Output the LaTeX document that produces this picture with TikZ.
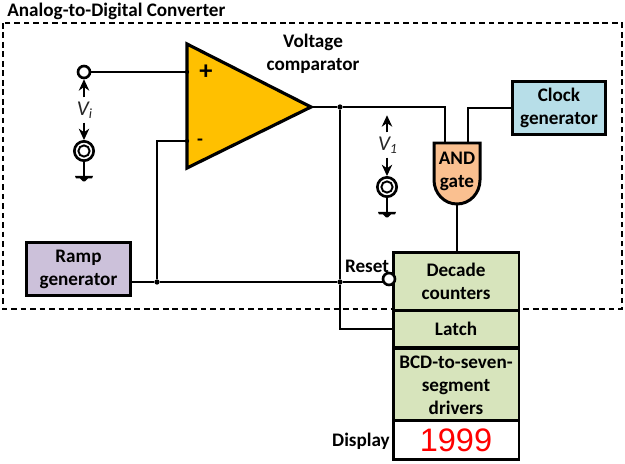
\documentclass[tikz,border=0pt]{standalone}
\usepackage{fontspec}
\setmainfont{Carlito}
\newfontfamily\digitfont{Liberation Sans}
\usetikzlibrary{arrows.meta}
\tikzset{
    wire/.style = {line width = 1.4pt},
    blockbox/.style = {draw, line width = 1.7pt, align = center, inner sep = 0pt, font = \bfseries\fontsize{10.9}{13}\selectfont},
    plainlabel/.style = {inner sep = 0pt, align = center, font = \bfseries\fontsize{10.9}{13}\selectfont},
    voltlabel/.style = {inner sep = 0pt, text = black!85, font = \itshape\fontsize{12}{12}\selectfont},
    junction/.style = {circle, fill, inner sep = 0pt, minimum size = 3pt},
    terminal/.style = {circle, draw, fill = white, line width = 1.5pt, inner sep = 0pt, minimum size = 6.8pt},
    coax/.style = {circle, draw, fill = white, line width = 1.5pt, inner sep = 0pt, minimum size = 11pt},
    sensearrow/.style = {line width = 0.6pt, -{Stealth[length = 6.5pt, width = 6pt]}}
}
\definecolor{compcolor}{HTML}{FFC000}
\definecolor{andcolor}{HTML}{FAC090}
\definecolor{clockcolor}{HTML}{B7DEE8}
\definecolor{rampcolor}{HTML}{CCC1DA}
\definecolor{countcolor}{HTML}{D7E4BC}
\begin{document}
\begin{tikzpicture}[x = 0.02cm, y = -0.02cm]
    \useasboundingbox (0, 0) rectangle (625, 463);
    \draw [line width = 1.5pt, dash pattern = on 3.2pt off 2.2pt]
        (3, 23) rectangle (622, 309);
    \node [plainlabel, anchor = west] (Title) at (7, 11) {Analog-to-Digital Converter};

    \draw [fill = compcolor, line join = miter, line width = 1.8pt]
        (187, 44) coordinate (CompTop) -- (311, 107) coordinate (CompOut)
        -- (187, 168) coordinate (CompBot) -- cycle;
    \draw [line width = 1.7pt, fill = andcolor]
        (434, 143) -- (480, 143) -- (480, 180)
        .. controls (480, 193) and (470, 204) .. (457, 204)
        .. controls (444, 204) and (434, 193) .. (434, 180) -- cycle;

    \draw
        (313, 54) node [plainlabel] (CompLabel) {Voltage\\comparator}
        (206, 72) node [plainlabel, font = \bfseries\fontsize{15}{15}\selectfont] (Plus) {+}
        (200, 142) node [plainlabel] (Minus) {-}
        (457, 171) node [plainlabel] (AndGate) {AND\\gate}
        (187, 72) node [junction, minimum size = 2.4pt] (InPlus)  {}
        (187, 141) node [junction, minimum size = 2.4pt] (InMinus) {}
        (84, 72) node [terminal] (Vin) {}
        (85, 110) node [voltlabel] (Vi) {\(\mathit{V_i}\)}
        (388, 145) node [voltlabel] (Vone) {\(\mathit{V_1}\)}
        (84, 151) node [coax] (CoaxI) {}
        (387, 187) node [coax] (CoaxV) {}
        (84, 151) node [coax, minimum size = 6.4pt, line width = 1.1pt] (CoaxIin) {}
        (387, 187) node [coax, minimum size = 6.4pt, line width = 1.1pt] (CoaxVin) {}
        (559, 108) node [blockbox, fill = clockcolor, minimum width = 52.4pt, minimum height = 30.7pt] (Clock) {Clock\\generator}
        (78.5, 269) node [blockbox, fill = rampcolor, minimum width = 59.7pt, minimum height = 30.7pt] (Ramp) {Ramp\\generator}
        (456, 281) node [blockbox, fill = countcolor, minimum width = 71.7pt, minimum height = 33pt] (Counters) {Decade\\counters}
        (456, 329) node [blockbox, fill = countcolor, minimum width = 71.7pt, minimum height = 21.6pt] (Latch) {Latch}
        (456, 385) node [blockbox, fill = countcolor, minimum width = 71.7pt, minimum height = 41.8pt] (Drivers) {BCD-to-seven-\\segment\\drivers}
        (456, 440) node [blockbox, fill = white, minimum width = 71.7pt, minimum height = 21.9pt] (Display) {\digitfont\mdseries\fontsize{18.5}{18.5}\selectfont\color{red}1999}
        (361, 441) node [plainlabel] (DisplayLabel) {Display}
        (367, 266) node [plainlabel] (ResetLabel) {Reset}
        (340, 107) node [junction] (OutJoin) {}
        (340, 282) node [junction] (ResetJoin) {}
        (157, 282) node [junction] (RampJoin) {}
        (445, 143) coordinate (AndA)
        (468, 143) coordinate (AndB)
        (457, 204) coordinate (AndOut)
        ;

    \draw [wire] (Vin) -- (InPlus);
    \draw [wire] (InMinus) -| (RampJoin);
    \draw [wire] (CompOut) -- (OutJoin) -- (445, 107) -- (AndA);
    \draw [wire] (Clock.west) -- (468, 108) -- (AndB);
    \draw [wire] (AndOut) -- (AndOut |- Counters.north);
    \draw [wire] (OutJoin) -- (ResetJoin) |- (Latch.west);
    \draw [wire] (131, 282) -- (RampJoin) -- (ResetJoin) -- (384, 282);
    \node [terminal] (Reset) at (389, 279) {};

    \foreach \coaxname in {CoaxI, CoaxV} {
        \draw [wire] (\coaxname.south) -- ++(0, 14) coordinate (\coaxname G);
        \fill (\coaxname G) ++(-9, 0) -- ++(18, 0) -- ++(-1, 2.5) -- ++(-4, 0) -- ++(-3, 3) -- ++(-2, 0) -- ++(-3, -3) -- ++(-4, 0) -- cycle;
    }

    \draw [sensearrow] (Vi.north) ++(-1, -4) coordinate (ViUp) -- (Vin.south);
    \draw [sensearrow] (Vi.south) ++(-1, 4) coordinate (ViDown) -- (CoaxI.north);
    \draw [sensearrow] (Vone.north) ++(-1, -4) coordinate (VoneUp) -- ++(0, -17) coordinate (VoneTip);
    \draw [sensearrow] (Vone.south) ++(-1, 4) coordinate (VoneDown) -- (CoaxV.north);
\end{tikzpicture}
\end{document}
